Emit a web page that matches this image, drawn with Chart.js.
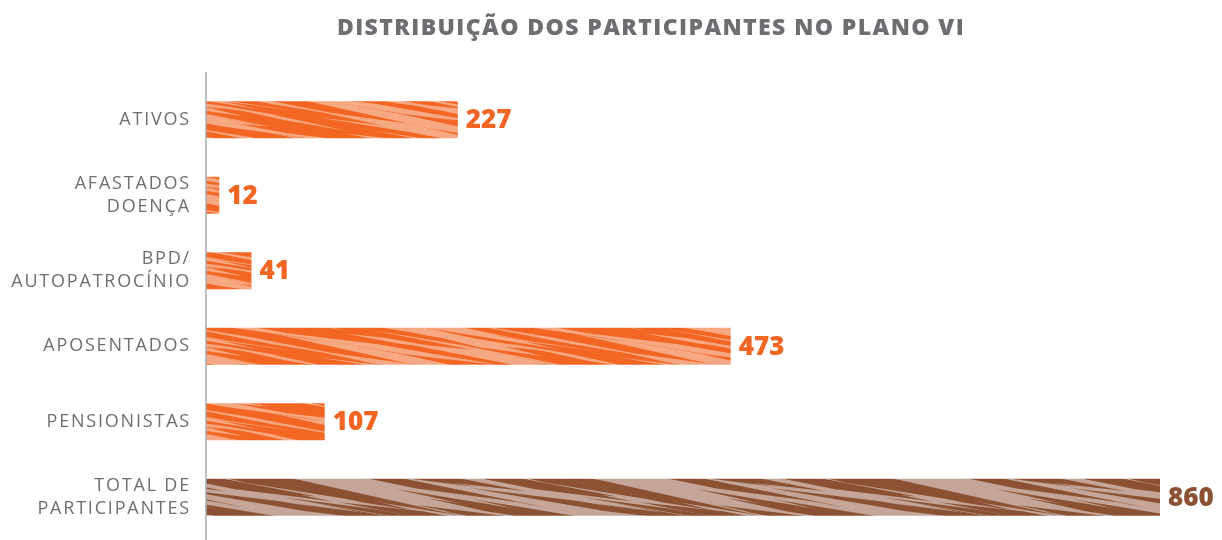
<!DOCTYPE html>
<html>
<head>
<meta charset="utf-8">
<script src="https://cdn.jsdelivr.net/npm/chart.js@4"></script>
<style>
  html, body { margin: 0; padding: 0; background: #fff; }
  #wrap { width: 1222px; height: 540px; position: relative; }
</style>
</head>
<body>
<div id="wrap"><canvas id="grafico"></canvas></div>
<script>
// dados
const categorias = [
    "ATIVOS",
    ["AFASTADOS", "DOENÇA"],
    ["BPD/", "AUTOPATROCÍNIO"],
    "APOSENTADOS",
    "PENSIONISTAS",
    ["TOTAL DE", "PARTICIPANTES"]
];
const participantes = [227, 12, 41, 473, 107, 860];
const titulo = "DISTRIBUIÇÃO DOS PARTICIPANTES NO PLANO VI";

const LARANJA = "#f26522";
const LARANJA_CLARO = "#f6a882";
const MARROM = "#8a5233";
const MARROM_CLARO = "#c4a597";

// textura de riscos diagonais (só estilo)
function criarTextura(base, risco, semente, qtd) {
    const W = 300, H = 40;
    const c = document.createElement("canvas");
    c.width = W; c.height = H;
    const g = c.getContext("2d");
    g.fillStyle = base;
    g.fillRect(0, 0, W, H);
    g.fillStyle = risco;
    let s = semente;
    const rnd = () => { s = (s * 16807) % 2147483647; return s / 2147483647; };
    for (let i = 0; i < qtd; i++) {
        const x = rnd() * W, y = rnd() * H;
        const len = 90 + rnd() * 200, esp = 2 + rnd() * 7, inc = 0.14 + rnd() * 0.06;
        for (const dx of [-W, 0, W]) {
            for (const dy of [-H, 0, H]) {
                const x0 = x + dx, y0 = y + dy;
                g.beginPath();
                g.moveTo(x0, y0);
                g.lineTo(x0 + len * 0.45, y0 + len * 0.45 * inc - esp / 2);
                g.lineTo(x0 + len, y0 + len * inc);
                g.lineTo(x0 + len * 0.55, y0 + len * 0.55 * inc + esp / 2);
                g.closePath();
                g.fill();
            }
        }
    }
    return g.createPattern(c, "repeat");
}

const texLaranja = criarTextura(LARANJA, LARANJA_CLARO, 12345, 15);
const texMarrom = criarTextura(MARROM_CLARO, MARROM, 777, 11);

const cores = participantes.map((v, i) => i === participantes.length - 1 ? texMarrom : texLaranja);
const coresTexto = participantes.map((v, i) => i === participantes.length - 1 ? MARROM : LARANJA);

const extras = {
    id: "extras",
    beforeDraw(chart) {
        chart.ctx.letterSpacing = "1.8px";
    },
    afterDraw(chart) {
        const ctx = chart.ctx;
        const area = chart.chartArea;
        // título
        ctx.save();
        ctx.letterSpacing = "1.4px";
        ctx.font = "800 23px 'Open Sans'";
        ctx.fillStyle = "#6d6e71";
        ctx.textAlign = "center";
        ctx.textBaseline = "middle";
        ctx.fillText(titulo, 651, 28);
        ctx.restore();
        // linha do eixo
        ctx.save();
        ctx.strokeStyle = "#a7a9ac";
        ctx.lineWidth = 1.5;
        ctx.beginPath();
        ctx.moveTo(area.left, 72);
        ctx.lineTo(area.left, 540);
        ctx.stroke();
        ctx.restore();
        // valores
        const meta = chart.getDatasetMeta(0);
        ctx.save();
        ctx.letterSpacing = "0px";
        ctx.font = "800 26px 'Open Sans'";
        ctx.textBaseline = "middle";
        ctx.textAlign = "left";
        meta.data.forEach((bar, i) => {
            ctx.fillStyle = coresTexto[i];
            ctx.fillText(participantes[i], bar.x + 8, bar.y + 1);
        });
        ctx.restore();
    }
};

new Chart(document.getElementById("grafico"), {
    type: "bar",
    data: {
        labels: categorias,
        datasets: [{
            data: participantes,
            backgroundColor: cores,
            borderWidth: 0,
            barPercentage: 0.49,
            categoryPercentage: 1.0
        }]
    },
    options: {
        indexAxis: "y",
        responsive: true,
        maintainAspectRatio: false,
        animation: false,
        layout: { padding: { left: 0, right: 62, top: 82, bottom: 5 } },
        plugins: {
            legend: { display: false },
            tooltip: { enabled: false },
            title: { display: false }
        },
        scales: {
            x: {
                min: 0,
                max: 860,
                display: false
            },
            y: {
                grid: { display: false },
                border: { display: false },
                afterFit(scale) {
                    scale.width = 206;
                    scale.paddingTop = 0;
                    scale.paddingBottom = 0;
                },
                ticks: {
                    color: "#6d6e71",
                    padding: 7,
                    font: { family: "'Open Sans'", size: 18, weight: "normal", lineHeight: 1.28 }
                }
            }
        }
    },
    plugins: [extras]
});
</script>
</body>
</html>
